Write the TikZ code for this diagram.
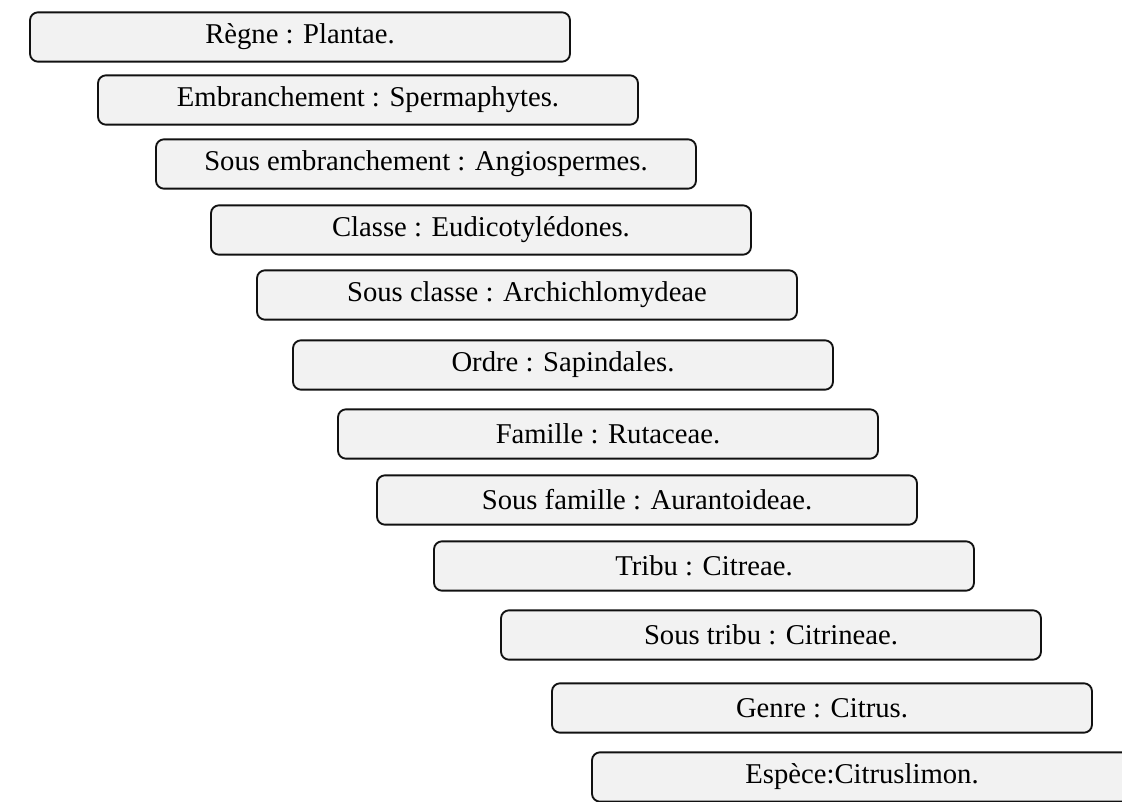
\documentclass[tikz,border=0pt]{standalone}
\usepackage{fontspec}
\setmainfont{Liberation Serif}
\usepackage{tikz}
\definecolor{rangFill}{HTML}{F2F2F2}
\definecolor{rangLine}{HTML}{111111}

\begin{document}
\begin{tikzpicture}[
    x=0.75pt, y=-0.75pt,
    rang/.style={draw=rangLine, line width=1.4pt, rounded corners=6pt,
                 fill=rangFill, inner sep=0pt,
                 minimum width=405pt, minimum height=37pt,
                 font=\fontsize{21.5}{24}\selectfont}, % same box for every rank
]

% page frame (reference size in px)
\useasboundingbox (0,0) rectangle (1122,802);

%-----------------------------------------------------------------------
% staircase of ranks, top to bottom
\node[rang] (regne)   at (300,37)  {Règne : Plantae.};
\node[rang] (embr)    at (368,100) {Embranchement : Spermaphytes.};
\node[rang] (sembr)   at (426,164) {Sous embranchement : Angiospermes.};
\node[rang] (classe)  at (481,230) {Classe : Eudicotylédones.};
\node[rang] (sclasse) at (527,295) {Sous classe : Archichlomydeae};
\node[rang] (ordre)   at (563,365) {Ordre : Sapindales.};
\node[rang] (famille) at (608,434) {Famille : Rutaceae.};
\node[rang] (sfam)    at (647,500) {Sous famille : Aurantoideae.};
\node[rang] (tribu)   at (704,566) {Tribu : Citreae.};
\node[rang] (stribu)  at (771,635) {Sous tribu : Citrineae.};
\node[rang] (genre)   at (822,708) {Genre : Citrus.};
\node[rang] (espece)  at (862,777) {Espèce:Citruslimon.}; % runs off the page edge

\end{tikzpicture}
\end{document}
